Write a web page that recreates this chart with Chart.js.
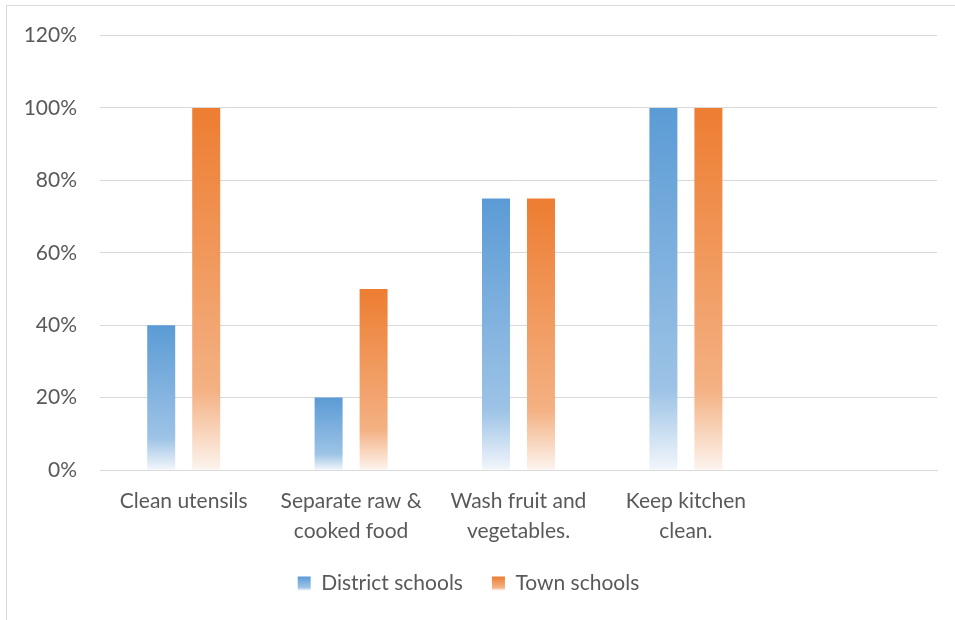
<!DOCTYPE html>
<html>
<head>
<meta charset="utf-8">
<script src="https://cdn.jsdelivr.net/npm/chart.js@4.4.1/dist/chart.umd.min.js"></script>
<style>
    html, body { margin: 0; padding: 0; background: #fff; }
    #wrap { position: relative; width: 955px; height: 620px; }
</style>
</head>
<body>
<div id="wrap"><canvas id="grafico"></canvas></div>
<script>
// Dados do gráfico
const categorias = ['Clean utensils', ['Separate raw &', 'cooked food'], ['Wash fruit and', 'vegetables.'], ['Keep kitchen', 'clean.'], ''];
const escolasDistrito = [40, 20, 75, 100, null];
const escolasCidade = [100, 50, 75, 100, null];
const ticksY = [0, 20, 40, 60, 80, 100, 120];

const coresAzul = ['#5b9bd5', '#9dc3e6', '#f2f6fb'];
const coresLaranja = ['#ed7d31', '#f4b183', '#fcf4ee'];

const fonte = 'Lato, "Open Sans", sans-serif';
const corTexto = '#595959';

function criaGradiente(c, topo, base, cores) {
    const g = c.createLinearGradient(0, topo, 0, base);
    g.addColorStop(0, cores[0]);
    g.addColorStop(0.78, cores[1]);
    g.addColorStop(1, cores[2]);
    return g;
}

function gradienteBarra(ctx, cores) {
    const chart = ctx.chart;
    if (!chart.chartArea || !chart.scales.y) return cores[0];
    const v = ctx.raw;
    if (v == null) return cores[0];
    const y = chart.scales.y;
    return criaGradiente(chart.ctx, y.getPixelForValue(v), y.getPixelForValue(0), cores);
}

// moldura (apenas esquerda e topo aparecem na imagem) + gradiente da legenda
const pluginMoldura = {
    id: 'moldura',
    beforeDraw(chart) {
        const c = chart.ctx;
        c.save();
        c.strokeStyle = '#d9d9d9';
        c.lineWidth = 1;
        c.beginPath();
        c.moveTo(6.5, 640);
        c.lineTo(6.5, 5.5);
        c.lineTo(960, 5.5);
        c.stroke();
        c.restore();

        const lg = chart.legend;
        if (!lg || !lg.legendItems || !lg.legendHitBoxes) return;
        const cores = [coresAzul, coresLaranja];
        lg.legendItems.forEach((item, i) => {
            const hb = lg.legendHitBoxes[i];
            if (!hb) return;
            const meio = hb.top + hb.height / 2;
            item.fillStyle = criaGradiente(c, meio - 7, meio + 7, cores[i]);
        });
    }
};

const ctx = document.getElementById('grafico').getContext('2d');
new Chart(ctx, {
    type: 'bar',
    data: {
        labels: categorias,
        datasets: [
            {
                label: 'District schools',
                data: escolasDistrito,
                backgroundColor: c => gradienteBarra(c, coresAzul),
                borderWidth: 0
            },
            {
                label: 'Town schools',
                data: escolasCidade,
                backgroundColor: c => gradienteBarra(c, coresLaranja),
                borderWidth: 0
            }
        ]
    },
    options: {
        responsive: true,
        maintainAspectRatio: false,
        animation: false,
        categoryPercentage: 0.5376,
        barPercentage: 0.622,
        layout: { padding: { left: 0, right: 18, top: 24, bottom: 16 } },
        plugins: {
            legend: {
                position: 'bottom',
                labels: {
                    boxWidth: 13,
                    boxHeight: 14,
                    padding: 29,
                    color: corTexto,
                    font: { family: fonte, size: 21 }
                }
            },
            tooltip: { enabled: false }
        },
        scales: {
            x: {
                grid: { display: false },
                border: { display: true, color: '#d9d9d9' },
                afterFit: s => { s.height = 74; },
                ticks: {
                    color: corTexto,
                    font: { family: fonte, size: 21, lineHeight: 1.43 },
                    padding: 8,
                    maxRotation: 0,
                    autoSkip: false
                }
            },
            y: {
                min: 0,
                max: 120,
                afterBuildTicks: s => { s.ticks = ticksY.map(v => ({ value: v })); },
                afterFit: s => { s.width = 100; },
                grid: { color: '#d9d9d9', drawTicks: false },
                border: { display: false },
                ticks: {
                    color: corTexto,
                    font: { family: fonte, size: 21 },
                    padding: 23,
                    callback: v => v + '%'
                }
            }
        }
    },
    plugins: [pluginMoldura]
});
</script>
</body>
</html>
